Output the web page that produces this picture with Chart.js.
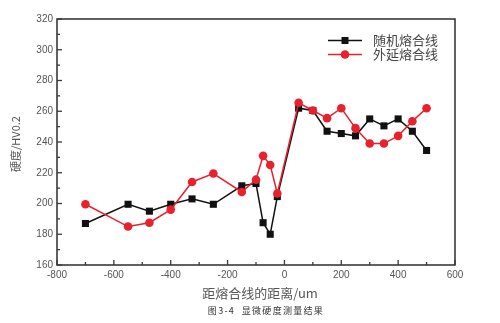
<!DOCTYPE html>
<html>
<head>
<meta charset="utf-8">
<script src="https://cdn.jsdelivr.net/npm/chart.js@4/dist/chart.umd.min.js"></script>
<style>
  html, body { margin: 0; padding: 0; background: #fff; }
  #wrap { width: 500px; height: 323px; position: relative; }
</style>
</head>
<body>
<div id="wrap"><canvas id="c" width="500" height="323"></canvas></div>
<script>
// Distance from the fusion line (um)
const distances = [-700, -550, -475, -400, -325, -250, -150, -100, -75, -50, -25,
                   50, 100, 150, 200, 250, 300, 350, 400, 450, 500];
// Microhardness, HV0.2
const randomLine = [187, 199.5, 195, 199.5, 203, 199.5, 211.5, 213, 187.5, 180, 204.5,
                    262, 260.5, 247, 245.5, 244, 255, 250.5, 255, 247, 234.5];
const epitaxialLine = [199.5, 185, 187.5, 196, 214, 219.5, 207.5, 215.5, 231, 225, 206.5,
                       265.5, 260.5, 255.5, 262, 249, 239, 239, 244, 253.5, 262];
const seriesNames = ['随机熔合线', '外延熔合线'];
const xTicks = [-800, -600, -400, -200, 0, 200, 400, 600];
const yTicks = [160, 180, 200, 220, 240, 260, 280, 300, 320];
const xTitle = '距熔合线的距离/um';
const yTitle = '硬度/HV0.2';
const caption = '图3-4  显微硬度测量结果';

const toPoints = ys => distances.map((x, i) => ({ x, y: ys[i] }));

const BLACK = '#111111';
const RED = '#e8212c';
const AXIS = '#3a3a3a';
const LABEL = '#555555';

// Frame, inward ticks, tick labels, titles, legend and caption
const framePlugin = {
  id: 'frame',
  afterDraw(chart) {
    const { ctx, chartArea: a, scales } = chart;
    const xs = scales.x, ys = scales.y;
    ctx.save();
    ctx.strokeStyle = AXIS;
    ctx.lineWidth = 1.6;
    ctx.strokeRect(a.left, a.top, a.right - a.left, a.bottom - a.top);

    ctx.lineWidth = 1.3;
    // x ticks (major + minor), pointing into the plot
    for (let v = -800; v <= 600; v += 100) {
      const px = xs.getPixelForValue(v);
      const len = (v % 200 === 0) ? 5 : 3;
      ctx.beginPath();
      ctx.moveTo(px, a.bottom);
      ctx.lineTo(px, a.bottom - len);
      ctx.stroke();
    }
    // y ticks (major + minor)
    for (let v = 160; v <= 320; v += 10) {
      const py = ys.getPixelForValue(v);
      const len = (v % 20 === 0) ? 5 : 3;
      ctx.beginPath();
      ctx.moveTo(a.left, py);
      ctx.lineTo(a.left + len, py);
      ctx.stroke();
    }

    // tick labels
    ctx.fillStyle = LABEL;
    ctx.font = '10px "Liberation Sans", Arial, sans-serif';
    ctx.textAlign = 'center';
    ctx.textBaseline = 'top';
    xTicks.forEach(v => ctx.fillText(String(v), xs.getPixelForValue(v), a.bottom + 5));
    ctx.textAlign = 'right';
    ctx.textBaseline = 'middle';
    yTicks.forEach(v => ctx.fillText(String(v), a.left - 4, ys.getPixelForValue(v)));

    // axis titles
    ctx.fillStyle = LABEL;
    ctx.font = '13px "Noto Sans CJK SC", sans-serif';
    ctx.textAlign = 'center';
    ctx.textBaseline = 'middle';
    ctx.fillText(xTitle, 260, 293);
    ctx.save();
    ctx.translate(16, (a.top + a.bottom) / 2 + 2);
    ctx.rotate(-Math.PI / 2);
    ctx.font = '11px "Noto Sans CJK SC", "Liberation Sans", sans-serif';
    ctx.fillText(yTitle, 0, 0);
    ctx.restore();

    // legend
    const entries = chart.data.datasets;
    entries.forEach((ds, i) => {
      const y = 40.5 + i * 14;
      ctx.strokeStyle = ds.borderColor;
      ctx.lineWidth = 1.5;
      ctx.beginPath();
      ctx.moveTo(328, y);
      ctx.lineTo(362, y);
      ctx.stroke();
      ctx.fillStyle = ds.backgroundColor;
      if (ds.pointStyle === 'rect') {
        ctx.fillRect(345 - 3.5, y - 3.5, 7, 7);
      } else {
        ctx.beginPath();
        ctx.arc(345, y, 4.3, 0, Math.PI * 2);
        ctx.fill();
      }
      ctx.fillStyle = '#444';
      ctx.font = '13px "Noto Sans CJK SC", sans-serif';
      ctx.textAlign = 'left';
      ctx.textBaseline = 'middle';
      ctx.fillText(ds.label, 373, y);
    });

    // caption
    ctx.fillStyle = '#333';
    ctx.font = '9px "Noto Sans CJK SC", sans-serif';
    ctx.letterSpacing = '1.3px';
    ctx.textAlign = 'center';
    ctx.textBaseline = 'middle';
    ctx.fillText(caption, 266, 311);
    ctx.restore();
  }
};

new Chart(document.getElementById('c'), {
  type: 'scatter',
  data: {
    datasets: [
      {
        label: seriesNames[0],
        data: toPoints(randomLine),
        showLine: true,
        borderColor: BLACK,
        backgroundColor: BLACK,
        borderWidth: 1.5,
        pointStyle: 'rect',
        pointRadius: 5,
        pointBorderWidth: 0,
        order: 1
      },
      {
        label: seriesNames[1],
        data: toPoints(epitaxialLine),
        showLine: true,
        borderColor: RED,
        backgroundColor: RED,
        borderWidth: 1.5,
        pointStyle: 'circle',
        pointRadius: 4.3,
        pointBorderWidth: 0,
        order: 0
      }
    ]
  },
  options: {
    responsive: false,
    animation: false,
    events: [],
    layout: { padding: { left: 57, right: 45, top: 19, bottom: 58 } },
    plugins: { legend: { display: false }, tooltip: { enabled: false } },
    scales: {
      x: { type: 'linear', min: -800, max: 600, display: false },
      y: { type: 'linear', min: 160, max: 320, display: false }
    }
  },
  plugins: [framePlugin]
});
</script>
</body>
</html>
